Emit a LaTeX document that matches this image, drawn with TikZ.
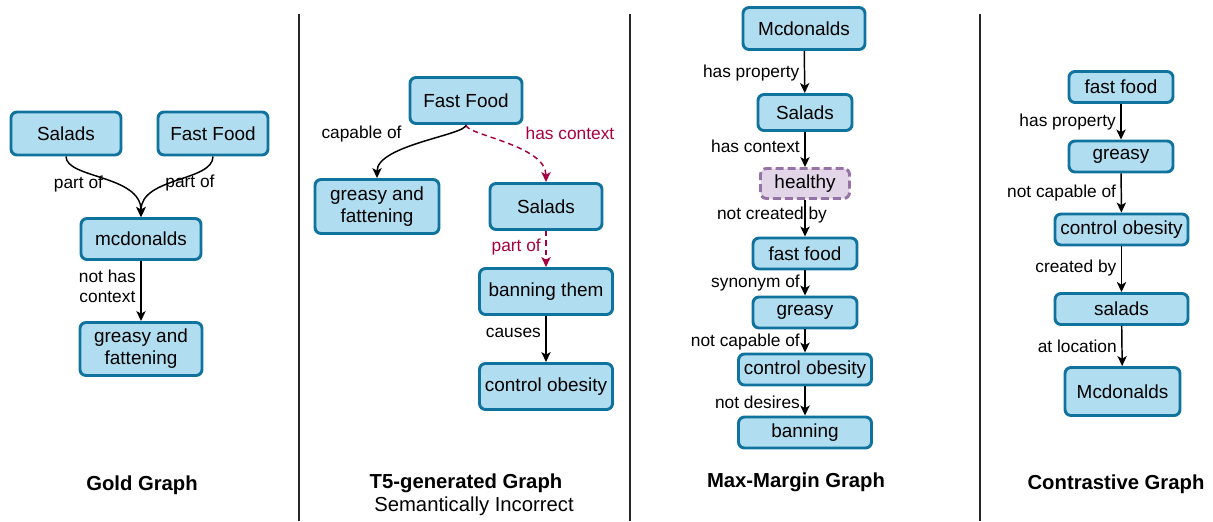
\documentclass[tikz,border=0pt]{standalone}
\usepackage{fontspec}
\setmainfont{Liberation Sans}
\usetikzlibrary{arrows.meta}
\definecolor{nodefill}{HTML}{B1DDF0}
\definecolor{nodeline}{HTML}{10739E}
\definecolor{wrongfill}{HTML}{E1D5E7}
\definecolor{wrongline}{HTML}{9673A6}
\definecolor{wrongedge}{HTML}{A50040}
\newdimen\px \px=0.75pt
\tikzset{
	concept/.style={draw=nodeline,fill=nodefill,line width=2.2pt,rounded corners=4.5pt,inner sep=0pt,align=center,font=\fontsize{14.2}{16.5}\selectfont},
	wrong/.style={concept,draw=wrongline,fill=wrongfill,dash pattern=on 6pt off 3pt},
	rel/.style={line width=1.1pt,-{Stealth[length=7.5pt,width=7pt,inset=2pt]}},
	fake/.style={rel,wrongedge,dash pattern=on 4pt off 3pt},
	lbl/.style={font=\fontsize{13}{15}\selectfont},
	title/.style={font=\fontsize{15.2}{18}\selectfont\bfseries},
	panelsep/.style={line width=0.8pt,black!85}
}

\begin{document}
\begin{tikzpicture}[x=0.75pt,y=-0.75pt]
	    \useasboundingbox (0,0) rectangle (1213,521);
	    \draw[panelsep] (299,14) -- (299,521);
	    \draw[panelsep] (630,14) -- (630,521);
	    \draw[panelsep] (980,14) -- (980,521);
	    \node[concept,minimum width=110\px,minimum height=43\px] (salads1) at (66,133.5) {Salads};
	    \node[concept,minimum width=110\px,minimum height=43\px] (fastfood1) at (213,133.5) {Fast Food};
	    \node[concept,minimum width=120\px,minimum height=41\px] (mcd1) at (141,239) {mcdonalds};
	    \node[concept,minimum width=122\px,minimum height=53\px] (greasy1) at (141,349) {greasy and\\fattening};
	    \draw[rel] (salads1.south) .. controls +(0,22) and +(0,-42) .. node[lbl,xshift=-25\px,yshift=-5\px] {part of} (mcd1.north);
	    \draw[rel] (fastfood1.south) .. controls +(0,25) and +(0,-40) .. node[lbl,xshift=13\px,yshift=-2\px] {part of} (mcd1.north);
	    \draw[rel] (mcd1) -- node[lbl,left,align=center,yshift=5\px] {not has\\context} (greasy1);
	    \node[title] (gold) at (142,485) {Gold Graph};
	    \node[concept,minimum width=112\px,minimum height=46\px] (fastfood2) at (466,100.5) {Fast Food};
	    \node[concept,minimum width=124\px,minimum height=54\px] (greasy2) at (377,206.5) {greasy and\\fattening};
	    \node[concept,minimum width=112\px,minimum height=46\px] (salads2) at (546,206.5) {Salads};
	    \node[concept,minimum width=133\px,minimum height=46\px] (banning2) at (546,291.5) {banning them};
	    \node[concept,minimum width=133\px,minimum height=46\px] (obesity2) at (546,386.5) {control obesity};
	    \draw[rel] (fastfood2.south) .. controls +(0,10) and +(0,-33) .. node[lbl,xshift=-60\px,yshift=9\px] {capable of} (greasy2.north);
	    \draw[fake] (fastfood2.south) .. controls +(0,10) and +(0,-37) .. node[lbl,xshift=64\px,yshift=10\px] {has context} (salads2.north);
	    \draw[fake] (salads2) -- node[lbl,left,yshift=2\px] {part of} (banning2);
	    \draw[rel] (banning2) -- node[lbl,left,yshift=6\px] {causes} (obesity2);
	    \node[title] (t5) at (466,483) {T5-generated Graph};
	    \node[font=\fontsize{15.2}{18}\selectfont] (t5note) at (474,506) {Semantically Incorrect};
	    \node[concept,minimum width=122\px,minimum height=42\px] (mcd3) at (804,28.5) {Mcdonalds};
	    \node[concept,minimum width=94\px,minimum height=36\px] (salads3) at (805,112.5) {Salads};
	    \node[wrong,minimum width=89\px,minimum height=30\px] (healthy3) at (805,183.5) {healthy};
	    \node[concept,minimum width=104\px,minimum height=31\px] (fastfood3) at (805,253.5) {fast food};
	    \node[concept,minimum width=104\px,minimum height=31\px] (greasy3) at (805,312.5) {greasy};
	    \node[concept,minimum width=133\px,minimum height=31\px] (obesity3) at (805,369.5) {control obesity};
	    \node[concept,minimum width=133\px,minimum height=31\px] (banning3) at (805,432.5) {banning};
	    \draw[rel] (mcd3) -- node[lbl,left,yshift=-1\px] {has property} (salads3);
	    \draw[rel] (salads3) -- node[lbl,left,yshift=3\px] {has context} (healthy3);
	    \draw[rel] (healthy3) -- node[lbl,xshift=-33\px,yshift=3\px] {not created by} (fastfood3);
	    \draw[rel] (fastfood3) -- node[lbl,left] {synonym of} (greasy3);
	    \draw[rel] (greasy3) -- node[lbl,left,yshift=-1\px] {not capable of} (obesity3);
	    \draw[rel] (obesity3) -- node[lbl,left,yshift=-1\px] {not desires} (banning3);
	    \node[title] (maxmargin) at (796,482) {Max-Margin Graph};
	    \node[concept,minimum width=104\px,minimum height=31\px] (fastfood4) at (1121,87) {fast food};
	    \node[concept,minimum width=104\px,minimum height=31\px] (greasy4) at (1121,156.5) {greasy};
	    \node[concept,minimum width=133\px,minimum height=31\px] (obesity4) at (1121.5,229.5) {control obesity};
	    \node[concept,minimum width=133\px,minimum height=31\px] (salads4) at (1121.5,309) {salads};
	    \node[concept,minimum width=115\px,minimum height=48\px] (mcd4) at (1122.5,391.5) {Mcdonalds};
	    \draw[rel] (fastfood4) -- node[lbl,left] {has property} (greasy4);
	    \draw[rel] (greasy4) -- node[lbl,left] {not capable of} (obesity4);
	    \draw[rel] (obesity4) -- node[lbl,left,yshift=1\px] {created by} (salads4);
	    \draw[rel] (salads4) -- node[lbl,left] {at location} (mcd4);
	    \node[title] (contrast) at (1116,484) {Contrastive Graph};
        \end{tikzpicture}
\end{document}
